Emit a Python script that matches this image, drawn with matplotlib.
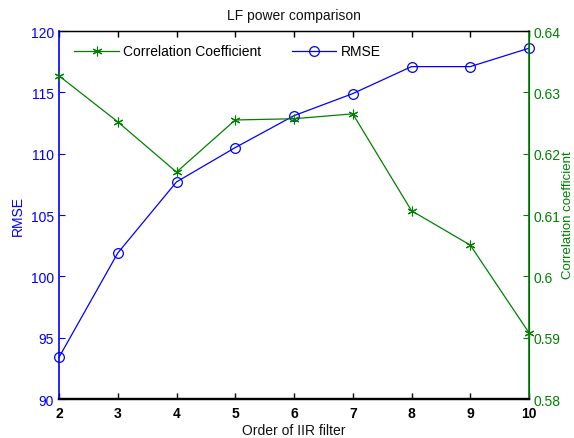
import matplotlib
matplotlib.use("Agg")
import matplotlib.pyplot as plt

plt.rcParams['font.family'] = ['Liberation Sans', 'DejaVu Sans']

order = [2, 3, 4, 5, 6, 7, 8, 9, 10]
rmse = [93.4, 101.9, 107.7, 110.5, 113.1, 114.9, 117.1, 117.1, 118.6]
corr = [0.6327, 0.6252, 0.6170, 0.6255, 0.6257, 0.6265, 0.6107, 0.6051, 0.5908]
rmse_ticks = [90, 95, 100, 105, 110, 115, 120]
corr_ticks = [0.58, 0.59, 0.6, 0.61, 0.62, 0.63, 0.64]

BLUE = (0, 0, 1)
GREEN = (0, 0.5, 0)

fig = plt.figure(figsize=(5.74, 4.39), dpi=100)
ax = fig.add_axes([0.1028, 0.0888, 0.8188, 0.8382])
ax2 = ax.twinx()

l1, = ax.plot(order, rmse, '-o', color=BLUE, lw=0.9, ms=7,
              mfc='none', mew=0.9, label='RMSE', clip_on=False, zorder=3)
l2, = ax2.plot(order, corr, '-', marker=(6, 2, 0), color=GREEN, lw=0.9, ms=7,
               mew=0.8, label='Correlation Coefficient', clip_on=False)

ax.set_xlim(2, 10)
ax.set_ylim(90, 120)
ax2.set_ylim(0.58, 0.64)
ax.set_xticks(order)
ax.set_yticks(rmse_ticks)
ax2.set_yticks(corr_ticks)
ax2.set_yticklabels(['0.58', '0.59', '0.6', '0.61', '0.62', '0.63', '0.64'])

ax.tick_params(axis='x', direction='in', top=True, length=4, labelsize=10,
               width=1, pad=5)
for t in ax.get_xticklabels():
    t.set_fontweight('bold')
ax.tick_params(axis='y', direction='in', colors=BLUE, length=4, labelsize=10)
ax2.tick_params(axis='y', direction='in', colors=GREEN, length=4, labelsize=10)

ax.spines['left'].set_color(BLUE)
ax.spines['left'].set_linewidth(1.2)
ax2.spines['right'].set_color(GREEN)
ax2.spines['right'].set_linewidth(1.2)
ax2.spines['left'].set_visible(False)
ax.spines['bottom'].set_linewidth(1.6)
ax.spines['top'].set_linewidth(1.0)
ax2.spines['bottom'].set_linewidth(1.6)

ax.set_title('LF power comparison', fontsize=10, color='#111111', pad=9)
ax.set_xlabel('Order of IIR filter', fontsize=10, color='#111111', labelpad=2)
ax.set_ylabel('RMSE', fontsize=10, color=BLUE, labelpad=4)
fig.text(568 / 574, 0.51, 'Correlation coefficient', fontsize=9.5,
         color=GREEN, rotation=90, ha='center', va='center')

fig.legend([l2, l1], ['Correlation Coefficient', 'RMSE'], ncol=2,
           frameon=False, fontsize=10, loc='upper left',
           bbox_to_anchor=(0.108, 0.925), columnspacing=2.2,
           handlelength=3.2, handletextpad=0.3)

fig.savefig('out.png', dpi=100)
